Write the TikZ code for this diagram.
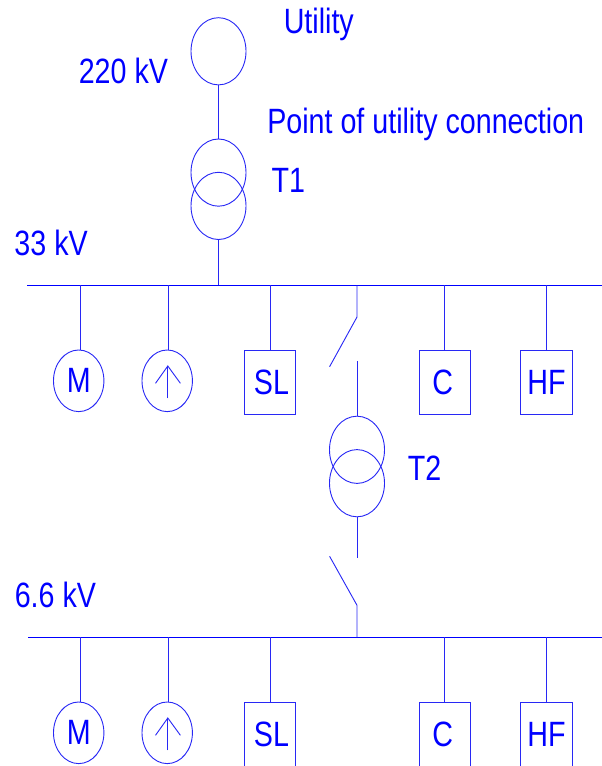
\documentclass[tikz,border=0pt]{standalone}
\usepackage{fontspec}
\setmainfont[FakeStretch=0.815]{Liberation Sans}
\usetikzlibrary{shapes.geometric}
\definecolor{linecol}{RGB}{40,40,245}
\tikzset{
  wire/.style={draw = linecol, line width=0.65pt},
  bar/.style={draw = blue, line width=0.8pt},
  label/.style={text=blue, anchor = base west, inner sep=0pt, font=\fontsize{25}{27}\selectfont},
  winding/.style={ellipse, wire, minimum width=1.375cm, minimum height=1.68cm, inner sep=0pt},
  machine/.style={ellipse, wire, minimum width=1.26cm, minimum height=1.54cm, inner sep=0pt, text=blue, font=\fontsize{25}{27}\selectfont},
  load/.style={rectangle, wire, minimum width=1.28cm, minimum height=1.62cm, inner sep=0pt, text=blue, font=\fontsize{25}{27}\selectfont}
}
\begin{document}
\begin{tikzpicture}[x = 0.025cm, y = -0.025cm]
\useasboundingbox (0, 0) rectangle (602, 766);
% utility side
\node[winding] (utility) at (218.5, 51.3) {};
\node[winding] (t1a) at (218.5, 172.6) {};
\node[winding] (t1b) at (218.5, 205.9) {};
\draw[wire] (utility.south) -- (t1a.north);
\node[label] (utilitytext) at (283.5, 33.3) {Utility};
\node[label] (hvtext) at (78.5, 83.3) {220 kV};
\node[label] (pcctext) at (267, 133.3) {Point of utility connection};
\node[label] (t1text) at (271.4, 192.3) {T1};
\node[label] (mvtext) at (14.2, 255.7) {33 kV};
% 33 kV bus
\coordinate (busa) at (27, 285.3);
\coordinate (busb) at (602, 285.3);
\draw[bar] (busa) -- (busb);
\draw[wire] (t1b.south) -- (t1b.south |- busa);
\node[machine] (ma) at (78.7, 380.8) {M};
\node[machine] (ga) at (167.2, 380.8) {};
\node[load] (sla) at (270, 382.4) {SL\kern-2pt};
\node[load] (ca) at (444.8, 382.4) {C\kern 3pt};
\node[load] (hfa) at (546.5, 382.4) {HF};
\coordinate (mtopa) at (80, 350);
\draw[wire] (mtopa |- busa) -- (mtopa);
\coordinate (gtopa) at (168.2, 350);
\draw[wire] (gtopa |- busa) -- (gtopa);
\draw[wire] (sla.north |- busa) -- (sla.north);
\draw[wire] (ca.north |- busa) -- (ca.north);
\draw[wire] (hfa.north |- busa) -- (hfa.north);
\draw[wire] ([shift={(0.6, 17.5)}]ga.center) -- ([shift={(0.6, -14.8)}]ga.center);
\draw[wire] ([shift={(-11.7, 2.5)}]ga.center) -- ([shift={(0.6, -14.8)}]ga.center) -- ([shift={(13.2, 2.5)}]ga.center);
% tie to the 6.6 kV bus
\coordinate (swa) at (357, 317);
\coordinate (bladea) at (329.6, 366.7);
\coordinate (swb) at (357, 361.3);
\draw[wire] (swa |- busa) -- (swa) -- (bladea);
\node[winding] (t2a) at (357, 449.8) {};
\node[winding] (t2b) at (357, 483.2) {};
\draw[wire] (swb) -- (t2a.north);
\node[label] (t2text) at (407.7, 480.7) {T2};
\coordinate (swc) at (357, 558.3);
\coordinate (bladeb) at (329.6, 556.3);
\coordinate (swd) at (357, 605.3);
\draw[wire] (t2b.south) -- (swc);
\node[label] (lvtext) at (14.5, 607.7) {6.6 kV};
% 6.6 kV bus
\coordinate (busc) at (28, 637.4);
\coordinate (busd) at (602, 637.4);
\draw[bar] (busc) -- (busd);
\draw[wire] (bladeb) -- (swd) -- (swd |- busc);
\node[machine] (mb) at (78.7, 732.8) {M};
\node[machine] (gb) at (167.2, 732.8) {};
\node[load] (slb) at (270, 734.4) {SL\kern-2pt};
\node[load] (cb) at (444.8, 734.4) {C\kern 3pt};
\node[load] (hfb) at (546.5, 734.4) {HF};
\coordinate (mtopb) at (80, 702);
\draw[wire] (mtopb |- busc) -- (mtopb);
\coordinate (gtopb) at (168.2, 702);
\draw[wire] (gtopb |- busc) -- (gtopb);
\draw[wire] (slb.north |- busc) -- (slb.north);
\draw[wire] (cb.north |- busc) -- (cb.north);
\draw[wire] (hfb.north |- busc) -- (hfb.north);
\draw[wire] ([shift={(0.6, 17.5)}]gb.center) -- ([shift={(0.6, -14.8)}]gb.center);
\draw[wire] ([shift={(-11.7, 2.5)}]gb.center) -- ([shift={(0.6, -14.8)}]gb.center) -- ([shift={(13.2, 2.5)}]gb.center);
\end{tikzpicture}
\end{document}
